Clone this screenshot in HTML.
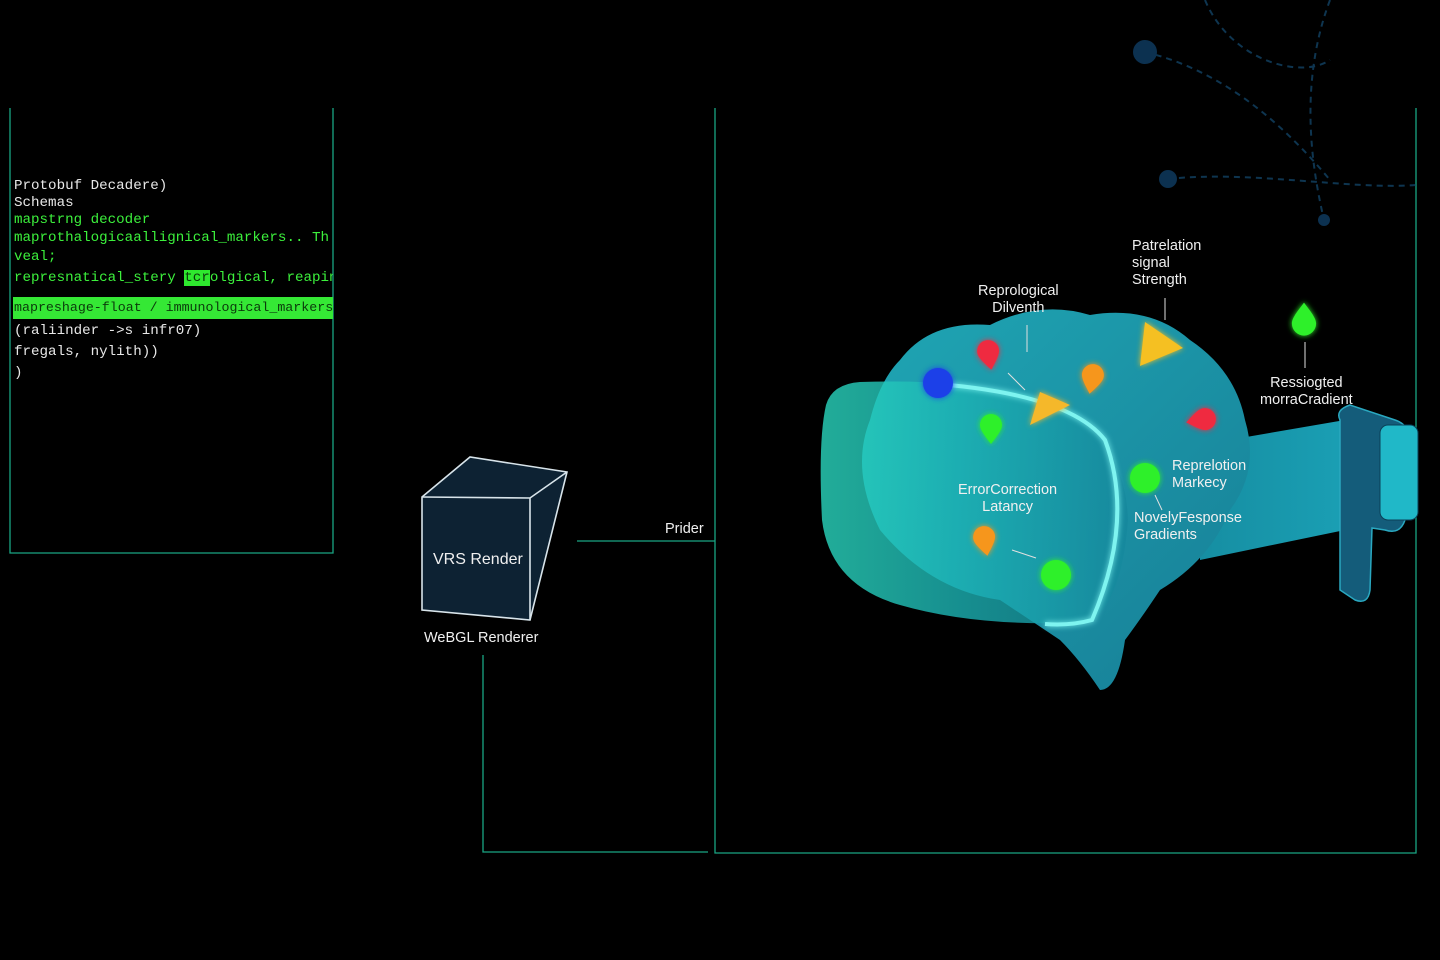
<!DOCTYPE html>
<html><head><meta charset="utf-8"><style>
html,body{margin:0;padding:0;background:#000;}
body{width:1440px;height:960px;overflow:hidden;position:relative;font-family:"Liberation Sans",sans-serif;}
.code{position:absolute;left:14px;font-family:"Liberation Mono",monospace;font-size:14.2px;white-space:nowrap;max-width:319px;overflow:hidden;}
.w{color:#e8e8e8}.g{color:#3cf03c}
.lbl{position:absolute;color:#f0f0f0;font-size:14.5px;line-height:17px;text-align:center;}
</style></head><body>
<svg width="1440" height="960" style="position:absolute;left:0;top:0">
<defs>
<linearGradient id="br" x1="0" y1="0" x2="1" y2="1"><stop offset="0" stop-color="#1fa6b4"/><stop offset="1" stop-color="#177e96"/></linearGradient>
<linearGradient id="vs" x1="0" y1="0" x2="1" y2="0"><stop offset="0" stop-color="#2ad8bf"/><stop offset="0.45" stop-color="#1cb3b4"/><stop offset="1" stop-color="#15879c"/></linearGradient>
<linearGradient id="st" x1="0" y1="0" x2="1" y2="0"><stop offset="0" stop-color="#168ea2"/><stop offset="1" stop-color="#1a9fb4"/></linearGradient>
<filter id="gl"><feGaussianBlur stdDeviation="3" result="b"/><feMerge><feMergeNode in="b"/><feMergeNode in="SourceGraphic"/></feMerge></filter>
<path id="drop" d="M0 14C-6 6 -11 0 -11 -5A11 11 0 1 1 11 -5C11 0 6 6 0 14Z"/>
</defs>
<g fill="none" stroke="#1aa583" stroke-width="1.3">
<path d="M10 108V553H333V108"/>
<path d="M715 108V853H1416V108"/>
<path d="M577 541H715"/>
<path d="M483 655V852H708"/>
</g>
<g fill="none" stroke="#0e3550" stroke-width="2" stroke-dasharray="6 5">
<path d="M1205 0C1230 60 1300 80 1330 60 M1145 52C1220 70 1280 120 1330 180 M1168 179C1250 170 1350 190 1416 185 M1330 0C1300 80 1310 160 1324 220"/>
</g>
<g fill="#0c3150"><circle cx="1145" cy="52" r="12"/><circle cx="1168" cy="179" r="9"/><circle cx="1324" cy="220" r="6"/></g>
<g stroke="#d8e4ea" stroke-width="1.6" fill="#0d2233">
<path d="M422 497L470 457L567 472L530 620L422 610Z"/>
<path d="M422 497L530 498L567 472M530 498V620" fill="none"/>
</g>
<!-- strap -->
<path d="M1200 445L1345 420L1345 530L1200 560Z" fill="url(#st)"/>
<path d="M1340 420Q1335 410 1350 405L1395 420Q1410 425 1408 440L1405 520Q1400 535 1385 530L1372 528L1370 590Q1368 605 1355 600L1340 590Z" fill="#145c7a" stroke="#2aa8c0" stroke-width="1.5"/>
<rect x="1380" y="425" width="38" height="95" rx="8" fill="#20b8c8" stroke="#0a4058"/>
<!-- brain -->
<path d="M900 360Q930 320 990 325Q1040 300 1090 315Q1150 305 1190 340Q1235 370 1245 420Q1260 470 1230 510Q1210 560 1160 590Q1140 620 1125 640Q1118 690 1100 690Q1080 660 1060 640Q1030 620 1000 600Q930 590 880 530Q850 470 870 420Q880 380 900 360Z" fill="url(#br)"/>
<!-- visor -->
<path d="M860 382Q990 378 1060 405Q1125 440 1128 520Q1122 600 1090 622Q980 628 900 605Q830 585 822 520Q818 440 826 405Q832 384 860 382Z" fill="url(#vs)" opacity="0.8"/>
<path d="M938 384Q1070 395 1105 440Q1135 520 1092 620Q1070 626 1045 624" fill="none" stroke="#7ef4f0" stroke-width="4" filter="url(#gl)"/>
<!-- markers -->
<g filter="url(#gl)">
<use href="#drop" transform="translate(989 356) rotate(-10)" fill="#ef2a40"/>
<use href="#drop" transform="translate(1092 380) rotate(10)" fill="#f6961a"/>
<path d="M1040 392L1070 405L1030 425Z" fill="#f5b82a"/>
<use href="#drop" transform="translate(991 430)" fill="#2ef02a"/>
<use href="#drop" transform="translate(1200 420) rotate(80)" fill="#ef2a40"/>
<path d="M1145 322L1183 348L1140 366Z" fill="#f5c020"/>
<use href="#drop" transform="translate(1304 318) rotate(180) scale(1.1)" fill="#2ef02a"/>
<use href="#drop" transform="translate(985 542) rotate(-10)" fill="#f6961a"/>
<circle cx="1145" cy="478" r="15" fill="#2ef02a"/>
<circle cx="1056" cy="575" r="15" fill="#2ef02a"/>
<circle cx="938" cy="383" r="15" fill="#1a40e8"/>
</g>
<g stroke="#e0e0e0" stroke-width="1" fill="none">
<path d="M1027 325V352M1165 298V320M1305 342V368M1008 373L1025 390M1012 550L1036 558M1155 495L1162 510"/>
</g>
</svg>
<div class="code w" style="top:178px">Protobuf Decadere)</div>
<div class="code w" style="top:195px">Schemas</div>
<div class="code g" style="top:212px">mapstrng decoder</div>
<div class="code g" style="top:230px">maprothalogicaallignical_markers.. Th</div>
<div class="code g" style="top:249px">veal;</div>
<div class="code g" style="top:270px">represnatical_stery <span style="background:#2ee82e;color:#0a3a0a">tcr</span>olgical, reapine</div>
<div style="position:absolute;left:13px;top:297px;width:320px;height:22px;background:#35e835"></div>
<div class="code" style="top:300px;color:#0b3a0b;font-size:13.3px">mapreshage-float / immunological_markers</div>
<div class="code w" style="top:323px">(raliinder -&gt;s infr07)</div>
<div class="code w" style="top:344px">fregals, nylith))</div>
<div class="code w" style="top:365px">)</div>
<div class="lbl" style="left:433px;top:551px;font-size:16px">VRS Render</div>
<div class="lbl" style="left:424px;top:630px">WeBGL Renderer</div>
<div class="lbl" style="left:665px;top:521px">Prider</div>
<div class="lbl" style="left:978px;top:283px">Reprological<br>Dilventh</div>
<div class="lbl" style="left:1132px;top:238px;text-align:left">Patrelation<br>signal<br>Strength</div>
<div class="lbl" style="left:1260px;top:375px">Ressiogted<br>morraCradient</div>
<div class="lbl" style="left:958px;top:482px">ErrorCorrection<br>Latancy</div>
<div class="lbl" style="left:1172px;top:458px;text-align:left">Reprelotion<br>Markecy</div>
<div class="lbl" style="left:1134px;top:510px;text-align:left">NovelyFesponse<br>Gradients</div>
</body></html>
